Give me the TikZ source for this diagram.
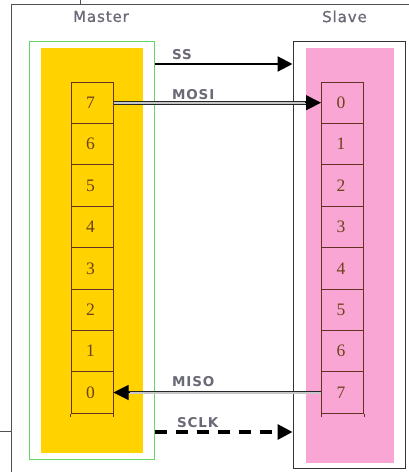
\documentclass[tikz,border=0pt]{standalone}
\usepackage{fontspec}
\usetikzlibrary{arrows.meta,calc}
\newfontfamily\lblfont[LetterSpace=6]{DejaVu Sans}
\newfontfamily\titfont[LetterSpace=6,FakeBold=0.8]{DejaVu Sans}
\newfontfamily\digfont{Liberation Serif}
\definecolor{yel}{RGB}{255,210,0}
\definecolor{pnk}{RGB}{250,166,212}
\definecolor{grn}{RGB}{100,215,100}
\definecolor{brn}{RGB}{100,50,35}
\definecolor{dig}{RGB}{110,65,25}
\definecolor{txt}{RGB}{105,105,120}
\definecolor{frm}{RGB}{80,80,80}
\tikzset{
  cell/.style={draw=brn, line width=1pt, minimum width=42pt, minimum height=41.4pt, inner sep=0pt, font=\digfont\fontsize{17.5}{17.5}\selectfont, text=dig},
  title/.style={font=\titfont\fontsize{15}{15}\selectfont, text=txt, inner sep=0pt},
  sig/.style={font=\lblfont\bfseries\fontsize{13.5}{13.5}\selectfont, text=txt, inner sep=0pt, anchor=west},
  dbl/.style={draw=black!85, double=gray!45, double distance=2pt, line width=0.9pt},
  bigtip/.style={-{Triangle[length=15pt,width=15pt]}},
}
\begin{document}
\begin{tikzpicture}[x=1pt,y=-1pt]
\useasboundingbox (0,0) rectangle (409,472);
% outer frame fragments
\draw[frm, line width=1pt] (11,472) -- (11,4) -- (409,4);
\draw[frm, line width=1pt] (80,0) -- (80,4);
\draw[frm, line width=1pt] (0,431) -- (11,431);
% boxes
\node[draw=grn, line width=1pt, minimum width=125pt, minimum height=418pt, inner sep=0pt] (mbox) at (91.5,250) {};
\node[fill=yel, minimum width=102pt, minimum height=405pt, inner sep=0pt] (mfill) at (92,250.5) {};
\node[draw=black!80, line width=1pt, minimum width=112pt, minimum height=427pt, inner sep=0pt] (sbox) at (349,254.5) {};
\node[fill=pnk, minimum width=88pt, minimum height=415pt, inner sep=0pt] (sfill) at (350,255.5) {};
% titles
\node[title] (mt) at (101,16.5) {Master};
\node[title] (st) at (344.5,16.5) {Slave};
% registers
\foreach \d [count=\k from 0] in {7,6,5,4,3,2,1,0} {
  \node[cell] (m\d) at (92,{82+41.4*(\k+0.5)}) {\hspace*{-3pt}\d};
}
\foreach \d [count=\k from 0] in {0,1,2,3,4,5,6,7} {
  \node[cell] (s\d) at (342.5,{82+41.4*(\k+0.5)}) {\hspace*{-3pt}\d};
}
\draw[brn, line width=1pt] (m0.south west) -- ++(0,3) (m0.south east) -- ++(0,3);
\draw[brn, line width=1pt] (s7.south west) -- ++(0,3) (s7.south east) -- ++(0,3);
% connectors
\coordinate (ssA) at (mbox.east |- 0,64);
\coordinate (ssB) at (sbox.west |- 0,64);
\draw[line width=2.2pt, bigtip] (ssA) -- (ssB);
\draw[dbl, shorten >=10pt] (m7.east) -- (s0.west);
\draw[line width=1pt, bigtip] ($(s0.west)+(-16,0)$) -- (s0.west);
\draw[dbl, shorten >=10pt] (s7.west) -- (m0.east);
\draw[line width=1pt, bigtip] ($(m0.east)+(16,0)$) -- (m0.east);
\coordinate (skA) at (mbox.east |- 0,432);
\coordinate (skB) at (sbox.west |- 0,432);
\draw[line width=3.2pt, dash pattern=on 12pt off 9pt, bigtip] (skA) -- (skB);
% labels
\node[sig] (lss) at (172,55) {SS};
\node[sig] (lmosi) at (172,95) {MOSI};
\node[sig] (lmiso) at (172,382) {MISO};
\node[sig] (lsclk) at (177,423) {SCLK};
\end{tikzpicture}
\end{document}
